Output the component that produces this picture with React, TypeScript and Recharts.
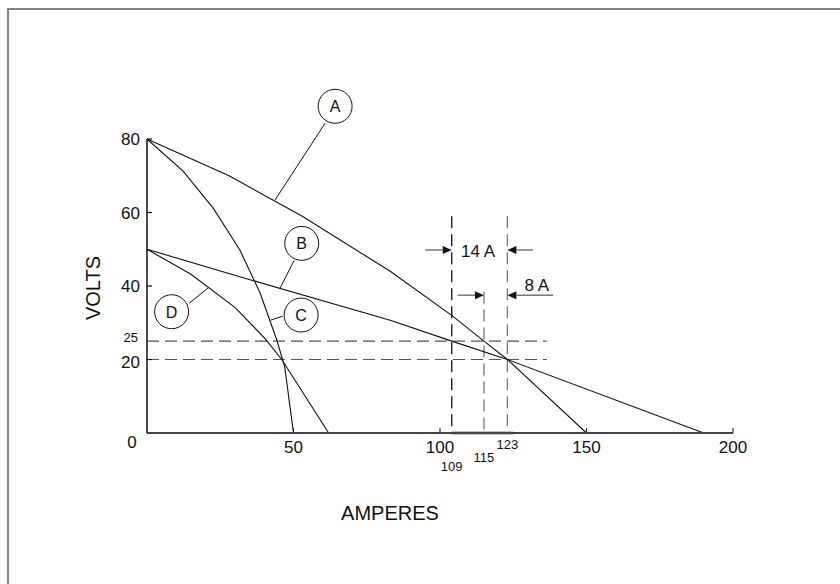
import React from 'react';
import { LineChart, Line, XAxis, YAxis, ReferenceLine, ReferenceDot } from 'recharts';

// amperes / volts
const curveA = [[0, 80], [28, 70], [53, 59], [83, 44], [104, 32], [115, 25], [123, 20], [150, 0]];
const curveB = [[0, 50], [36, 41.5], [83, 30.7], [104, 25], [123, 20], [190, 0]];
const curveC = [[0, 80], [12.4, 71.2], [22.6, 61.2], [31.7, 49.8], [38.6, 38.1], [44.3, 25.3], [47, 18], [50, 0]];
const curveD = [[0, 50], [15, 43.2], [30, 34.2], [40.3, 25.7], [46, 20], [62, 0]];

const xTicks = [0, 50, 100, 150, 200];
const yTicks = [0, 20, 25, 40, 60, 80];

// dashed guides
const voltGuides = [25, 20];
const ampGuides = [
  { amps: 104, top: 59, label: '109', color: '#111' },
  { amps: 115, top: 38.5, label: '115', color: '#777' },
  { amps: 123, top: 59, label: '123', color: '#777' },
];

const arrows = [
  { from: 95, to: 104, volts: 49.8 },
  { from: 131.7, to: 123, volts: 49.8 },
  { from: 106, to: 115, volts: 37.5 },
  { from: 138.6, to: 123, volts: 37.5 },
];
const arrowLabels = [
  { amps: 113, volts: 48, text: '14 A' },
  { amps: 133, volts: 38.6, text: '8 A' },
];

const callouts = [
  { name: 'A', amps: 64.2, volts: 88.9, lead: [[60.8, 84.3], [43.7, 63.4]] },
  { name: 'B', amps: 52.8, volts: 51.6, lead: [[50.2, 46.9], [45.4, 39.4]] },
  { name: 'C', amps: 52.6, volts: 32.1, lead: [[46.3, 31.8], [42.2, 30.7]] },
  { name: 'D', amps: 8.4, volts: 33.0, lead: [[14.4, 35.3], [20.9, 39.5]] },
];

const FONT = 'Liberation Sans, Arial, sans-serif';
const toPoints = (c: number[][]) => c.map(([amps, volts]) => ({ amps, volts }));

const XTick = (props: any) => {
  const { x, y, payload } = props;
  if (payload.value === 0) {
    return <text x={x - 15} y={y + 15} textAnchor="middle" fontSize={17} fontFamily={FONT} fill="#111">0</text>;
  }
  return (
    <g>
      <line x1={x} y1={y} x2={x} y2={y - 5} stroke="#333" strokeWidth={1.2} />
      <text x={x} y={y + 19.5} textAnchor="middle" fontSize={17} fontFamily={FONT} fill="#111">{payload.value}</text>
    </g>
  );
};

const YTick = (props: any) => {
  const { x, y, payload } = props;
  const v = payload.value;
  if (v === 0) return <g />;
  if (v === 25) {
    return <text x={x - 9} y={y + 1} textAnchor="end" fontSize={13} fontFamily={FONT} fill="#111">25</text>;
  }
  return (
    <g>
      <line x1={x} y1={y} x2={x + 5} y2={y} stroke="#111" strokeWidth={1.2} />
      <text x={x - 7} y={y + (v === 20 ? 8 : 6)} textAnchor="end" fontSize={17} fontFamily={FONT} fill="#111">{v}</text>
    </g>
  );
};

const Arrow = (props: any) => {
  const { x1, y1, x2, y2 } = props;
  const dir = x2 > x1 ? 1 : -1;
  const len = 9;
  return (
    <g>
      <line x1={x1} y1={y1} x2={x2 - dir * len} y2={y2} stroke="#777" strokeWidth={1.5} />
      <polygon points={`${x2},${y2} ${x2 - dir * len},${y2 - 4} ${x2 - dir * len},${y2 + 4}`} fill="#111" />
    </g>
  );
};

export default function App() {
  return (
    <div style={{ position: 'absolute', left: 0, top: 0, width: 840, height: 584, background: '#fff', overflow: 'hidden' }}>
      <div style={{ position: 'absolute', left: 7, top: 8, width: 900, height: 700, borderLeft: '2px solid #808080', borderTop: '2px solid #808080' }} />
      <div style={{ position: 'absolute', left: 0, top: 0 }}>
        <LineChart width={840} height={584} margin={{ top: 139, right: 107, bottom: 121, left: 87 }}>
          <XAxis
            type="number"
            dataKey="amps"
            domain={[0, 200]}
            ticks={xTicks}
            interval={0}
            height={30}
            tickLine={false}
            tickSize={0}
            tickMargin={0}
            tick={XTick}
            axisLine={{ stroke: '#444', strokeWidth: 1.8 }}
            allowDuplicatedCategory={false}
          />
          <YAxis
            type="number"
            dataKey="volts"
            domain={[0, 80]}
            ticks={yTicks}
            interval={0}
            width={60}
            tickLine={false}
            tickSize={0}
            tickMargin={0}
            tick={YTick}
            axisLine={{ stroke: '#111', strokeWidth: 1.5 }}
          />

          {voltGuides.map((v) => (
            <ReferenceLine
              key={'v' + v}
              segment={[{ x: 0, y: v }, { x: 136.5, y: v }]}
              stroke="#555"
              strokeWidth={1.2}
              strokeDasharray="12 6"
            />
          ))}
          {ampGuides.map((g) => (
            <ReferenceLine
              key={'a' + g.label}
              segment={[{ x: g.amps, y: g.top }, { x: g.amps, y: 0 }]}
              stroke={g.color}
              strokeWidth={1.3}
              strokeDasharray="12 6"
            />
          ))}
          <ReferenceLine segment={[{ x: 104, y: 0 }, { x: 125, y: 0 }]} stroke="#111" strokeWidth={2.5} />

          <Line data={toPoints(curveA)} dataKey="volts" type="linear" stroke="#111" strokeWidth={1.1} dot={false} isAnimationActive={false} />
          <Line data={toPoints(curveB)} dataKey="volts" type="linear" stroke="#111" strokeWidth={1.1} dot={false} isAnimationActive={false} />
          <Line data={toPoints(curveC)} dataKey="volts" type="linear" stroke="#111" strokeWidth={1.1} dot={false} isAnimationActive={false} />
          <Line data={toPoints(curveD)} dataKey="volts" type="linear" stroke="#111" strokeWidth={1.1} dot={false} isAnimationActive={false} />

          {arrows.map((a, i) => (
            <ReferenceLine
              key={'ar' + i}
              segment={[{ x: a.from, y: a.volts }, { x: a.to, y: a.volts }]}
              shape={Arrow}
            />
          ))}
          {arrowLabels.map((l) => (
            <ReferenceDot
              key={l.text}
              x={l.amps}
              y={l.volts}
              r={0}
              shape={(p: any) => (
                <text x={p.cx} y={p.cy} textAnchor="middle" fontSize={17} fontFamily={FONT} fill="#111">{l.text}</text>
              )}
            />
          ))}
          {ampGuides.map((g, i) => (
            <ReferenceDot
              key={'lbl' + g.label}
              x={g.amps}
              y={0}
              r={0}
              ifOverflow="visible"
              shape={(p: any) => (
                <text x={p.cx} y={p.cy + [37.5, 29, 15.5][i]} textAnchor="middle" fontSize={13} fontFamily={FONT} fill="#111">{g.label}</text>
              )}
            />
          ))}

          {callouts.map((c) => (
            <ReferenceLine
              key={'lead' + c.name}
              segment={[{ x: c.lead[0][0], y: c.lead[0][1] }, { x: c.lead[1][0], y: c.lead[1][1] }]}
              stroke="#111"
              strokeWidth={1}
              ifOverflow="visible"
            />
          ))}
          {callouts.map((c) => (
            <ReferenceDot
              key={'c' + c.name}
              x={c.amps}
              y={c.volts}
              r={17}
              ifOverflow="visible"
              shape={(p: any) => (
                <g>
                  <circle cx={p.cx} cy={p.cy} r={17} fill="#fff" stroke="#111" strokeWidth={1} />
                  <text x={p.cx} y={p.cy + 6} textAnchor="middle" fontSize={16} fontFamily={FONT} fill="#111">{c.name}</text>
                </g>
              )}
            />
          ))}

          <text x={0} y={0} transform="translate(100,288) rotate(-90)" textAnchor="middle" fontSize={20} fontFamily={FONT} fill="#111">VOLTS</text>
          <text x={390} y={520} textAnchor="middle" fontSize={20} fontFamily={FONT} fill="#111">AMPERES</text>
        </LineChart>
      </div>
    </div>
  );
}
